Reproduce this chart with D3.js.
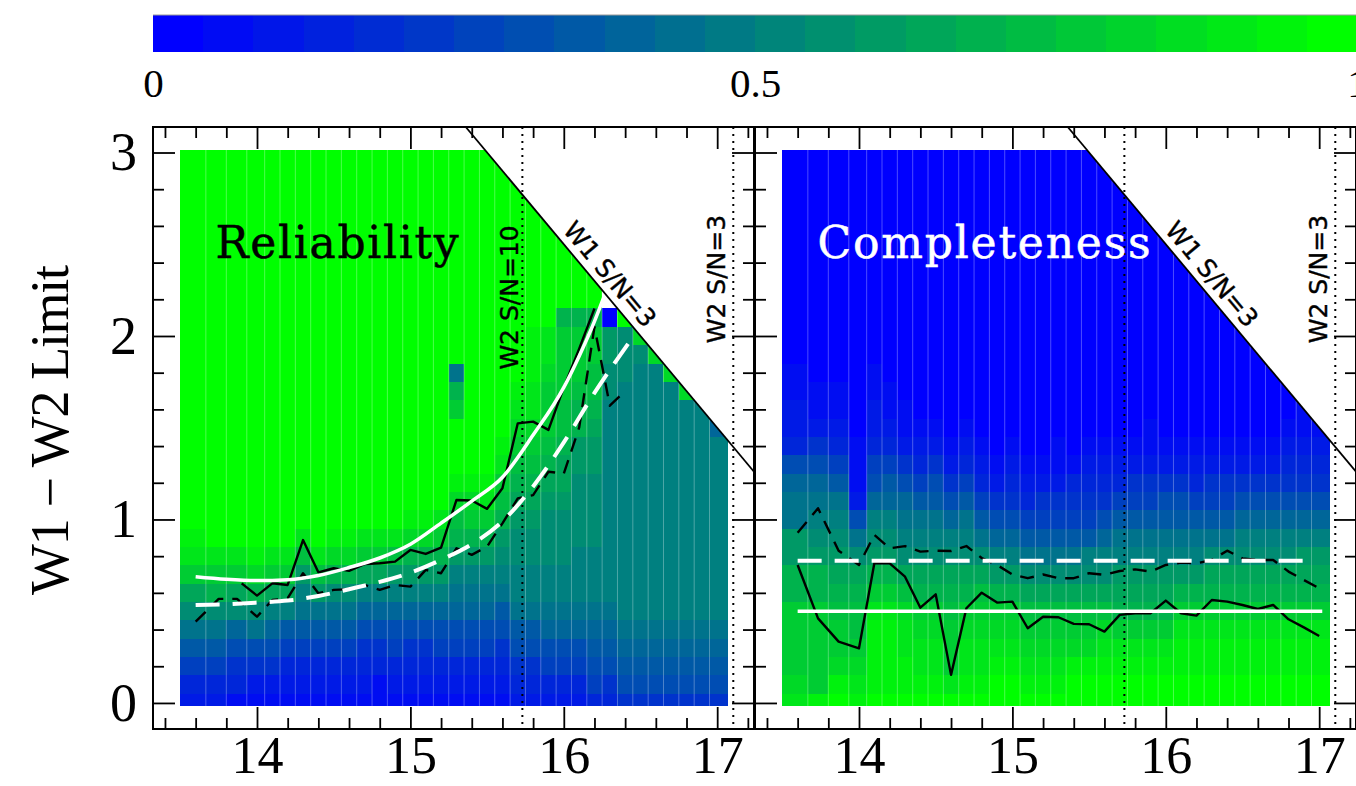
<!DOCTYPE html>
<html>
<head>
<meta charset="utf-8">
<script src="https://cdn.jsdelivr.net/npm/d3@7"></script>
<style>
  body { margin: 0; background: #fff; }
  svg { display: block; }
</style>
</head>
<body>
<svg id="chart"></svg>
<script>
const width = 1356;
const height = 786;

// W2 magnitude bin centres (the first bins are a bit wider)
const magBins = [13.6, 13.733, 13.867, 14.0, 14.1, 14.2, 14.3, 14.4, 14.5, 14.6, 14.7, 14.8,
  14.9, 15.0, 15.1, 15.2, 15.3, 15.4, 15.5, 15.6, 15.7, 15.8, 15.9, 16.0, 16.1, 16.2,
  16.3, 16.4, 16.5, 16.6, 16.7, 16.8, 16.9, 17.0];

// one string per magnitude bin, rows W1-W2 = 0.0, 0.1, ... upward (groups of 5 rows)
// a = 0.00 ... u = 1.00 (steps of 0.05), "." = no sources
const reliabilityCols = [
  "cdfhj lnqst uuuuu uuuuu uuuuu uuuuu u",
  "cdfhj loqsu uuuuu uuuuu uuuuu uuuuu u",
  "bdegi lnqsu uuuuu uuuuu uuuuu uuuuu u",
  "bcegj lortu uuuuu uuuuu uuuuu uuuuu u",
  "bcegi knqsu uuuuu uuuuu uuuuu uuuuu u",
  "bcdfh knqsu uuuuu uuuuu uuuuu uuuuu u",
  "bcdfh jkmps uuuuu uuuuu uuuuu uuuuu u",
  "bcdfh jmpsu uuuuu uuuuu uuuuu uuuuu u",
  "bcdfh jlort uuuuu uuuuu uuuuu uuuuu u",
  "bcdfh jlort uuuuu uuuuu uuuuu uuuuu u",
  "bcdeg iknqs uuuuu uuuuu uuuuu uuuuu u",
  "bbdeg iknqs uuuuu uuuuu uuuuu uuuuu u",
  "bcdfg ikmps uuuuu uuuuu uuuuu uuuuu u",
  "bcdeg ikmor tuuuu uuuuu uuuuu uuuuu u",
  "bcdeg ikmor tuuuu uuuuu uuuuu uuuuu u",
  "bcdfg ikmoq suuuu uuuuu uuuuu uuuuu u",
  "bcdfg ijkmo prtuu uqoju uuuuu uuuuu u",
  "bcdfg ijkmo qrtuu uuuuu uuuuu uuuuu u",
  "bcdfg ijkmo qstuu uuuuu uuuuu uuuuu u",
  "bcdeg hjklm opqst uuuuu uuuuu uuuuu",
  "cdegh jkkll mnopq rstuu uuuuu uuuu",
  "cdegh jkkll mnopq rsstt tuuuu uuu",
  "cdfgi jkkll lmnop qqqrs suuuu uu",
  "cdfgi jkkll lmnno ppqqq qouuu u",
  "cdfgi jkkkl lllmm oopqq qouuu",
  "dfghi jkkkl lllmm noppq qouu",
  "deghi jkkkk kkkkk kkllm ma.",
  "eghij kkkkk kkkkk kkkll lu",
  "eghij kkkkk kkkkk kkkkl r",
  "eghij kkkkk kkkkk kkkkr",
  "eghij kkkkk kkkkk kkkr",
  "eghij kkkkk kkkkk kkr",
  "eghij kkkkk kkkkk kk",
  "eghij kkkkk kkkkk i"
];

const completenessCols = [
  "srqqq qoomm jjigd ccbba aaaaa aaaaa a",
  "tqqqq qooml kjige cbbaa aaaaa aaaaa a",
  "utrqq ponml kjhfd cbbaa aaaaa aaaaa a",
  "tsrqp ponlj gcbbb aaaaa aaaaa aaaaa a",
  "utttt sqoml kigfd ccbba aaaaa aaaaa a",
  "utttt sqoml kihfd cbbaa aaaaa aaaaa a",
  "uttss rpnlk jigec bbaaa aaaaa aaaaa a",
  "utssr qonlk jhfdc baaaa aaaaa aaaaa a",
  "utssr qonlk jhgec baaaa aaaaa aaaaa a",
  "usqqq ponlk igecb aaaaa aaaaa aaaaa a",
  "utssr qonlk jhfdc baaaa aaaaa aaaaa a",
  "utssr qpnlj hfdcb aaaaa aaaaa aaaaa a",
  "uutsr qomki gecba aaaaa aaaaa aaaaa a",
  "uutsr qomki gedcb aaaaa aaaaa aaaaa a",
  "utsrq pnljh fdcba aaaaa aaaaa aaaaa a",
  "utsrq pnljh fecba aaaaa aaaaa aaaaa a",
  "utsrq pnljh fecbb aaaaa aaaaa aaaaa a",
  "uutrq pnljh fedba aaaaa aaaaa aaaaa a",
  "uutrq pnlkh fedcb aaaaa aaaaa aaaaa a",
  "uutsr pnlki gedcb aaaaa aaaaa aaaaa",
  "uutsq onmkj hfdcb aaaaa aaaaa aaaa",
  "uutsq onmkj hfecb aaaaa aaaaa aaa",
  "uutsq onmkj hfecb baaaa aaaaa aa",
  "uutsq onmkj hgecb aaaaa aaaaa a",
  "uutts qomkj hgecb aaaaa aaaaa",
  "uutts qomkj hfdcb aaaaa aaaa",
  "uutts qonlj hfecb aaaaa aaa",
  "uutts qonlj hfecb aaaaa aa",
  "uutts qonlk igecb aaaaa a",
  "uutts qonlk igecb aaaaa",
  "uutts qonlk igecb aaaa",
  "uutts qonlk igedc baa",
  "uutts qonmk igedc bb",
  "uutts qonmk igedc b"
];

// Reliability panel: black solid / dashed contours and white fits
const relSolidMag = [13.9, 14.0, 14.1, 14.2, 14.3, 14.4, 14.5, 14.6, 14.7, 14.8, 14.9, 15.0,
  15.1, 15.2, 15.3, 15.4, 15.5, 15.6, 15.7, 15.8, 15.9, 16.0, 16.1, 16.2];
const relSolidVal = [0.652, 0.585, 0.652, 0.643, 0.888, 0.712, 0.734, 0.72, 0.757, 0.761, 0.770, 0.834,
  0.812, 0.846, 1.106, 1.103, 1.058, 1.17, 1.524, 1.533, 1.488, 1.72, 1.93, 2.15];

const relDashMag = [13.6, 13.75, 13.87, 14.0, 14.1, 14.2, 14.3, 14.4, 14.5, 14.6, 14.7, 14.8, 14.9,
  15.0, 15.1, 15.2, 15.3, 15.4, 15.5, 15.6, 15.7, 15.8, 15.9, 16.0, 16.1, 16.2, 16.3, 16.4];
const relDashVal = [0.443, 0.567, 0.567, 0.47, 0.561, 0.571, 0.707, 0.598, 0.616, 0.62, 0.643, 0.616, 0.643,
  0.634, 0.725, 0.707, 0.843, 0.807, 0.852, 0.979, 1.115, 1.133, 1.26, 1.25, 1.50, 2.05, 1.62, 1.70];

const relFitMag = [13.6, 13.8, 14.0, 14.2, 14.4, 14.6, 14.8, 15.0, 15.2, 15.4, 15.6, 15.8, 16.0, 16.1, 16.2, 16.26];
const relFitVal = [0.688, 0.674, 0.667, 0.672, 0.695, 0.738, 0.79, 0.865, 0.98, 1.10, 1.23, 1.46, 1.72, 1.89, 2.08, 2.21];

const relFitDashMag = [13.6, 13.8, 14.0, 14.2, 14.4, 14.6, 14.8, 15.0, 15.2, 15.4, 15.6, 15.8, 16.0, 16.2, 16.46];
const relFitDashVal = [0.534, 0.538, 0.547, 0.558, 0.583, 0.62, 0.66, 0.71, 0.78, 0.865, 0.99, 1.18, 1.42, 1.69, 2.005];

// Completeness panel (black lines use magBins)
const compSolidVal = [0.752, 0.461, 0.334, 0.298, 0.761, 0.761, 0.688, 0.519, 0.592, 0.153, 0.516, 0.601,
  0.547, 0.552, 0.407, 0.470, 0.467, 0.431, 0.429, 0.389, 0.48, 0.489, 0.489, 0.558, 0.489, 0.476,
  0.561, 0.552, 0.534, 0.512, 0.534, 0.456, 0.412, 0.365];
const compDashVal = [0.928, 1.061, 0.83, 0.752, 0.916, 0.843, 0.855, 0.825, 0.83, 0.828, 0.855, 0.79,
  0.752, 0.70, 0.68, 0.70, 0.68, 0.68, 0.707, 0.698, 0.719, 0.728, 0.716, 0.752, 0.765, 0.761,
  0.779, 0.83, 0.788, 0.779, 0.779, 0.716, 0.67, 0.625];
const compFitMag = [13.6, 17.02];
const compFitVal = [0.50, 0.50];
const compFitDashMag = [13.6, 16.95];
const compFitDashVal = [0.775, 0.775];

// limits
const W1_LIMIT = 18.5;     // W1 S/N=3 : W1-W2 = 18.5 - W2
const W2_SNR10 = 15.73;
const W2_SNR3 = 17.105;

const xDomain = [13.322, 17.24];
const yDomain = [-0.142, 3.139];
const panelW = 601;
const plotTop = 127, plotBottom = 729;
const panelLefts = [153, 755];

const color = d3.interpolateRgb("#0000ff", "#00ff00");
const decode = ch => (ch.charCodeAt(0) - 97) / 20;

const svg = d3.select("#chart")
    .attr("width", width)
    .attr("height", height);

const y = d3.scaleLinear().domain(yDomain).range([plotBottom, plotTop]);

const colEdges = magBins.map((m, i) => [
    i === 0 ? 13.5 : (magBins[i - 1] + m) / 2,
    i === magBins.length - 1 ? 17.07 : (m + magBins[i + 1]) / 2
]);
const rowVals = d3.range(31).map(i => i / 10);
const rowTop = r => Math.min(rowVals[r] + 0.05, 3.015);
const rowBot = r => Math.max(rowVals[r] - 0.05, -0.016);

const panels = [
    {
        cols: reliabilityCols,
        title: "Reliability", titleColor: "#000", titleLen: 243,
        black: [[relSolidMag, relSolidVal, false], [relDashMag, relDashVal, true]],
        white: [[relFitMag, relFitVal, false], [relFitDashMag, relFitDashVal, true]],
        snr10Label: true, yLabels: true
    },
    {
        cols: completenessCols,
        title: "Completeness", titleColor: "#fff", titleLen: 333,
        black: [[magBins, compSolidVal, false], [magBins, compDashVal, true]],
        white: [[compFitMag, compFitVal, false], [compFitDashMag, compFitDashVal, true]],
        snr10Label: false, yLabels: false
    }
];

const minorX = d3.range(67, 87).filter(k => k % 5 !== 0).map(k => k / 5);
const majorX = [14, 15, 16, 17];
const minorY = d3.range(0, 16).filter(k => k % 5 !== 0).map(k => k / 5);
const majorY = [0, 1, 2, 3];

panels.forEach((p, i) => {
    const x0 = panelLefts[i];
    const x = d3.scaleLinear().domain(xDomain).range([x0, x0 + panelW]);
    const g = svg.append("g");

    // clip: inside the frame and below the W1 S/N=3 limit
    const clipId = "clip" + i;
    svg.append("clipPath").attr("id", clipId).append("path")
        .attr("d", d3.line()([
            [x(xDomain[0]), y(yDomain[0])],
            [x(xDomain[0]), y(yDomain[1])],
            [x(W1_LIMIT - yDomain[1]), y(yDomain[1])],
            [x(xDomain[1]), y(W1_LIMIT - xDomain[1])],
            [x(xDomain[1]), y(yDomain[0])]
        ]) + "Z");

    const cells = [];
    p.cols.forEach((s, c) => {
        [...s.replace(/ /g, "")].forEach((ch, r) => {
            if (ch !== ".") cells.push({c, r, v: decode(ch)});
        });
    });

    const heat = g.append("g").attr("clip-path", `url(#${clipId})`);
    heat.selectAll("rect")
        .data(cells)
        .join("rect")
        .attr("x", d => x(colEdges[d.c][0]))
        .attr("width", d => x(colEdges[d.c][1]) - x(colEdges[d.c][0]))
        .attr("y", d => y(rowTop(d.r)))
        .attr("height", d => y(rowBot(d.r)) - y(rowTop(d.r)))
        .attr("fill", d => color(d.v))
        .attr("shape-rendering", "crispEdges");

    // faint column separators
    heat.selectAll("line")
        .data(colEdges.slice(1))
        .join("line")
        .attr("x1", d => x(d[0])).attr("x2", d => x(d[0]))
        .attr("y1", y(-0.016)).attr("y2", d => y(Math.min(3.015, W1_LIMIT - d[0] + 0.1)))
        .attr("stroke", "#fff")
        .attr("stroke-opacity", 0.3)
        .attr("stroke-width", 1);

    // W2 S/N limits (dotted)
    g.selectAll("line.snr")
        .data([W2_SNR10, W2_SNR3])
        .join("line")
        .attr("class", "snr")
        .attr("x1", d => x(d)).attr("x2", d => x(d))
        .attr("y1", plotTop).attr("y2", plotBottom)
        .attr("stroke", "#000")
        .attr("stroke-width", 2)
        .attr("stroke-dasharray", "2,5");

    // W1 S/N=3 limit (diagonal)
    const diag = [[W1_LIMIT - yDomain[1], yDomain[1]], [xDomain[1], W1_LIMIT - xDomain[1]]];
    const line = d3.line().x(d => x(d[0])).y(d => y(d[1]));
    g.append("path")
        .attr("d", line(diag))
        .attr("fill", "none")
        .attr("stroke", "#000")
        .attr("stroke-width", 1.8);

    // black contours
    p.black.forEach(([m, v, dashed]) => {
        g.append("path")
            .attr("d", line(d3.zip(m, v)))
            .attr("fill", "none")
            .attr("stroke", "#000")
            .attr("stroke-width", 2.4)
            .attr("stroke-linejoin", "round")
            .attr("stroke-dasharray", dashed ? "14,9" : null);
    });

    // white fits
    const curve = d3.line().x(d => x(d[0])).y(d => y(d[1])).curve(d3.curveMonotoneX);
    p.white.forEach(([m, v, dashed]) => {
        g.append("path")
            .attr("d", curve(d3.zip(m, v)))
            .attr("fill", "none")
            .attr("stroke", "#fff")
            .attr("stroke-width", dashed ? 4 : 3.5)
            .attr("stroke-dasharray", dashed ? "24,13" : null);
    });

    // annotations
    const ann = g.append("g")
        .attr("font-family", "DejaVu Sans")
        .attr("font-size", 25)
        .attr("fill", "#000")
        .attr("stroke", "#000")
        .attr("stroke-width", 0.4);
    if (p.snr10Label) {
        ann.append("text")
            .attr("transform", `translate(${x(W2_SNR10) - 4},${y(2.21)}) rotate(-90)`)
            .attr("text-anchor", "middle")
            .text("W2 S/N=10");
    }
    ann.append("text")
        .attr("transform", `translate(${x(W2_SNR3) - 8},${y(2.31)}) rotate(-90)`)
        .attr("text-anchor", "middle")
        .text("W2 S/N=3");

    const ang = Math.atan2(y(W1_LIMIT - 17) - y(W1_LIMIT - 16), x(17) - x(16));
    const fx = x(16.22), fy = y(W1_LIMIT - 16.22);
    const off = 16;
    ann.append("text")
        .attr("transform", `translate(${fx + off * Math.sin(ang)},${fy - off * Math.cos(ang)}) rotate(${ang * 180 / Math.PI})`)
        .attr("text-anchor", "middle")
        .attr("dominant-baseline", "central")
        .text("W1 S/N=3");

    g.append("text")
        .attr("x", x(13.73))
        .attr("y", y(2.425))
        .attr("font-family", "DejaVu Serif")
        .attr("font-size", 44)
        .attr("fill", p.titleColor)
        .attr("stroke", p.titleColor)
        .attr("stroke-width", 0.5)
        .attr("textLength", p.titleLen)
        .attr("lengthAdjust", "spacing")
        .text(p.title);

    // axes: inward ticks on all four sides
    const styleAxis = sel => {
        sel.select(".domain").remove();
        sel.selectAll(".tick line").attr("stroke", "#000").attr("stroke-width", 1.8);
        sel.attr("font-family", "Liberation Serif").attr("font-size", 54);
        sel.selectAll(".tick text").attr("fill", "#000");
    };
    g.append("g").attr("transform", `translate(0,${plotBottom})`)
        .call(d3.axisBottom(x).tickValues(majorX).tickSize(-22).tickPadding(7).tickFormat(d3.format("d")))
        .call(styleAxis)
        .attr("font-size", 52);
    g.append("g").attr("transform", `translate(0,${plotBottom})`)
        .call(d3.axisBottom(x).tickValues(minorX).tickSize(-11).tickFormat(""))
        .call(styleAxis);
    g.append("g").attr("transform", `translate(0,${plotTop})`)
        .call(d3.axisTop(x).tickValues(majorX).tickSize(-22).tickFormat(""))
        .call(styleAxis);
    g.append("g").attr("transform", `translate(0,${plotTop})`)
        .call(d3.axisTop(x).tickValues(minorX).tickSize(-11).tickFormat(""))
        .call(styleAxis);
    g.append("g").attr("transform", `translate(${x0},0)`)
        .call(d3.axisLeft(y).tickValues(majorY).tickSize(-22).tickPadding(16)
            .tickFormat(p.yLabels ? d3.format("d") : ""))
        .call(styleAxis);
    g.append("g").attr("transform", `translate(${x0},0)`)
        .call(d3.axisLeft(y).tickValues(minorY).tickSize(-11).tickFormat(""))
        .call(styleAxis);
    g.append("g").attr("transform", `translate(${x0 + panelW},0)`)
        .call(d3.axisRight(y).tickValues(majorY).tickSize(-22).tickFormat(""))
        .call(styleAxis);
    g.append("g").attr("transform", `translate(${x0 + panelW},0)`)
        .call(d3.axisRight(y).tickValues(minorY).tickSize(-11).tickFormat(""))
        .call(styleAxis);

    g.append("rect")
        .attr("x", x0).attr("y", plotTop)
        .attr("width", panelW).attr("height", plotBottom - plotTop)
        .attr("fill", "none")
        .attr("stroke", "#000")
        .attr("stroke-width", 2);
});

// y axis title
svg.append("text")
    .attr("transform", `translate(68,${(plotTop + plotBottom) / 2 + 2}) rotate(-90)`)
    .attr("text-anchor", "middle")
    .attr("font-family", "Liberation Serif")
    .attr("font-size", 54)
    .attr("textLength", 330)
    .attr("lengthAdjust", "spacing")
    .text("W1 \u2212 W2  Limit");

// colour bar
const cb = d3.scaleLinear().domain([0, 1]).range([153, 1357]);
const barSteps = d3.range(24);
const cbar = svg.append("g");
cbar.selectAll("rect")
    .data(barSteps)
    .join("rect")
    .attr("x", d => cb(d / 24))
    .attr("width", cb(1 / 24) - cb(0) + 0.5)
    .attr("y", 15)
    .attr("height", 37)
    .attr("fill", d => color(d / 23))
    .attr("shape-rendering", "crispEdges");
cbar.append("line")
    .attr("x1", cb(0)).attr("x2", cb(1))
    .attr("y1", 15).attr("y2", 15)
    .attr("stroke", "#999").attr("stroke-width", 1);
cbar.append("g")
    .attr("transform", "translate(0,52)")
    .call(d3.axisBottom(cb).tickValues([0, 0.5, 1]).tickSize(0).tickPadding(16).tickFormat(d => String(d)))
    .call(sel => {
        sel.select(".domain").remove();
        sel.attr("font-family", "Liberation Serif").attr("font-size", 41);
        sel.selectAll("text").attr("fill", "#000");
    });
</script>
</body>
</html>
